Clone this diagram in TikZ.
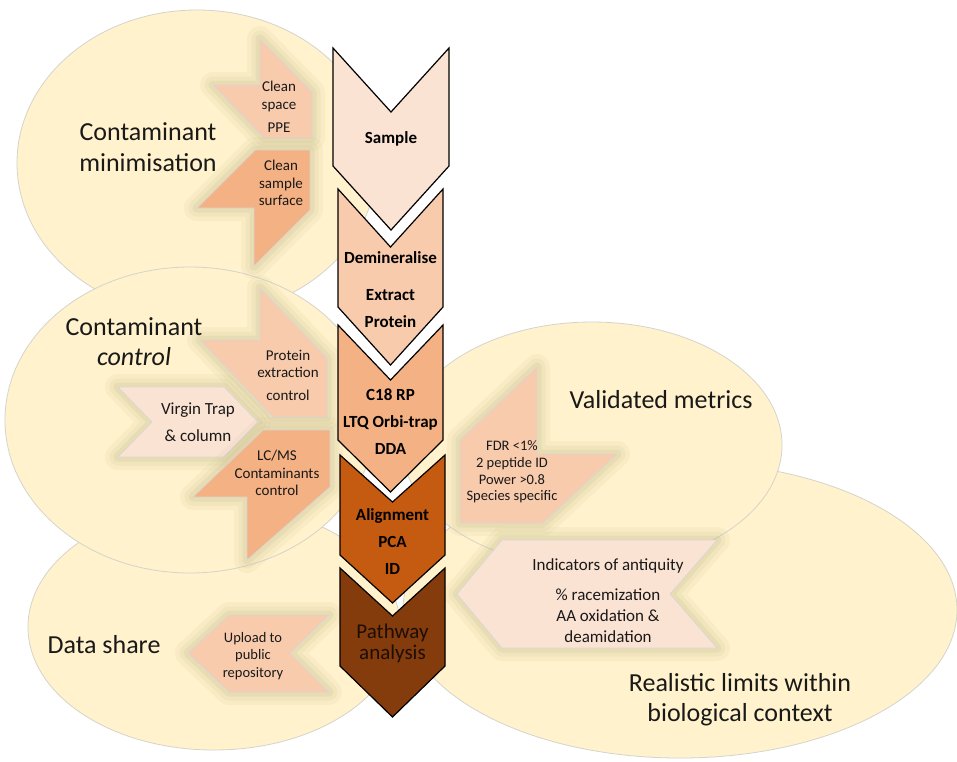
\documentclass[tikz,border=0pt]{standalone}
\usepackage{fontspec}
\setmainfont{Carlito}
\definecolor{ellfill}{RGB}{255,242,204}
\definecolor{ellline}{RGB}{212,212,204}
\definecolor{pk1}{RGB}{251,227,212}
\definecolor{pk2}{RGB}{248,203,173}
\definecolor{pk3}{RGB}{244,177,131}
\definecolor{or4}{RGB}{197,90,17}
\definecolor{br5}{RGB}{132,60,12}
\definecolor{glowc}{RGB}{185,175,125}
\definecolor{sideline}{RGB}{215,215,215}
\definecolor{txt}{RGB}{25,25,25}
\definecolor{pathtxt}{RGB}{28,14,5}
\begin{document}
\begin{tikzpicture}[x=1pt,y=-1pt,
  ell/.style={fill=ellfill, draw=ellline, line width=0.8pt},
  chev/.style={draw=black, line width=1.2pt, line join=miter},
  glow/.style={preaction={draw=glowc, draw opacity=.08, line width=26pt, line join=round},
               preaction={draw=glowc, draw opacity=.11, line width=17pt, line join=round},
               preaction={draw=glowc, draw opacity=.15, line width=9pt, line join=round}},
  side/.style={glow, draw=sideline, line width=0.7pt, line join=miter},
  title/.style={font=\fontsize{26}{31}\selectfont, text=txt, align=center, inner sep=0pt},
  ctext/.style={font=\bfseries\fontsize{17}{27}\selectfont, text=black, align=center, inner sep=0pt},
  stext/.style={font=\fontsize{15}{17.5}\selectfont, text=txt, align=center, inner sep=0pt}]
\useasboundingbox (0,0) rectangle (957,761);
\fill[white] (0,0) rectangle (957,761);

% background ellipses
\draw[ell] (214,627) ellipse [x radius=186pt, y radius=123pt];
\draw[ell] (197,163) ellipse [x radius=180pt, y radius=153pt];
\draw[ell] (190,420) ellipse [x radius=185pt, y radius=153pt];
\draw[ell] (680,610) ellipse [x radius=277pt, y radius=148pt];
\draw[ell] (592,445) ellipse [x radius=190pt, y radius=123pt];

% side arrows
\draw[side, fill=pk2] (213,85) -- (260,85) -- (260,39) -- (312,92) -- (312,138) -- (264,138) -- cycle;
\draw[side, fill=pk3] (197,208) -- (255,150) -- (310,150) -- (310,210) -- (254,266) -- (254,208) -- cycle;
\draw[side, fill=pk2] (200,340) -- (260,340) -- (260,288) -- (327,358) -- (327,417) -- (273,417) -- cycle;
\draw[side, fill=pk1] (118,387) -- (224,387) -- (258,422) -- (224,457) -- (118,457) -- (152,422) -- cycle;
\draw[side, fill=pk3] (193,497) -- (263,430) -- (330,430) -- (330,487) -- (247,560) -- (247,497) -- cycle;
\draw[side, fill=pk2] (537,367) -- (537,454) -- (617,454) -- (543,523) -- (460,523) -- (460,440) -- cycle;
\draw[side, fill=pk1] (457,594) -- (502,540) -- (717,540) -- (670,594) -- (717,648) -- (502,648) -- cycle;
\draw[side, fill=pk2] (188,653) -- (229,615) -- (329,615) -- (290,653) -- (329,692) -- (229,692) -- cycle;

% central chevrons
\draw[chev, fill=pk1] (333,48) -- (391,112) -- (449,48) -- (449,166) -- (391,230) -- (333,166) -- cycle;
\draw[chev, fill=pk2] (338,189) -- (390.5,247) -- (443,189) -- (443,307) -- (390.5,365) -- (338,307) -- cycle;
\draw[chev, fill=pk3] (338,325) -- (390.5,380) -- (443,325) -- (443,440) -- (390.5,492) -- (338,440) -- cycle;
\draw[chev, fill=or4] (340,455) -- (392.5,502) -- (445,455) -- (445,555) -- (392.5,603) -- (340,555) -- cycle;
\draw[chev, fill=br5] (340,568) -- (392.5,616) -- (445,568) -- (445,666) -- (392.5,717) -- (340,666) -- cycle;

% titles
\node[title] (tmin) at (148,147) {Contaminant\\minimisation};
\node[title, font=\fontsize{26}{30}\selectfont] (tctl) at (134,342) {Contaminant\\\textit{control}};
\node[title] (tdata) at (104,645) {Data share};
\node[title] (tval) at (661,400) {Validated metrics};
\node[title, font=\fontsize{26}{30}\selectfont] (treal) at (740,700) {Realistic limits within\\biological context};

% side texts
\node[stext] (tA) at (279,107) {Clean\\space\\[6pt]PPE};
\node[stext] (tB) at (281,183) {Clean\\sample\\surface};
\node[stext] (tC) at (288,375) {Protein\\extraction\\[5pt]control};
\node[stext, font=\fontsize{17}{27}\selectfont] (tD) at (198,422) {Virgin Trap\\\& column};
\node[stext] (tE) at (277,473) {LC/MS\\Contaminants\\control};
\node[stext, font=\fontsize{14.5}{16.7}\selectfont] (tF) at (512,472) {FDR <1\%\\2 peptide ID\\Power >0.8\\Species specific};
\node[stext, font=\fontsize{17}{21}\selectfont] (tG) at (608,601) {Indicators of antiquity\\[9pt]\% racemization\\AA oxidation \&\\deamidation};
\node[stext, font=\fontsize{14.5}{17.5}\selectfont] (tH) at (253,656) {Upload to\\public\\repository};

% chevron texts
\node[ctext] (nS) at (391,139) {Sample};
\node[ctext] (nD) at (390.5,290) {Demineralise\\[10pt]Extract\\Protein};
\node[ctext] (nC) at (390.5,421.5) {C18 RP\\LTQ Orbi-trap\\DDA};
\node[ctext] (nA) at (392.5,541.5) {Alignment\\PCA\\ID};
\node[ctext, font=\fontsize{21}{21}\selectfont, text=pathtxt] (nP) at (392.5,643) {Pathway\\analysis};
\end{tikzpicture}
\end{document}
